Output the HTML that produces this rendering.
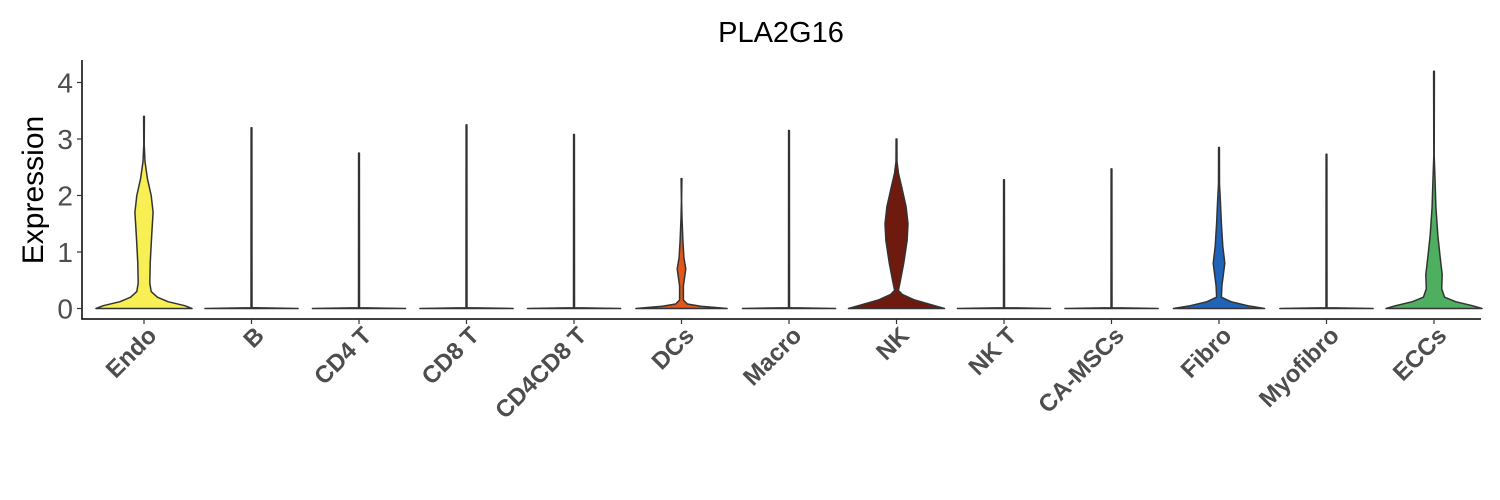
<!DOCTYPE html>
<html><head><meta charset="utf-8"><style>
body{margin:0;background:#fff}
svg{display:block;font-family:"Liberation Sans",sans-serif}
</style></head><body>
<svg id="chart" width="1500" height="500" viewBox="0 0 1500 500">
<text x="781" y="42" font-size="29" text-anchor="middle" fill="#000">PLA2G16</text>
<text transform="translate(43,190) rotate(-90)" font-size="30" text-anchor="middle" fill="#000">Expression</text>
<g id="plot"></g>
</svg>
<script>
const categories=["Endo","B","CD4 T","CD8 T","CD4CD8 T","DCs","Macro","NK","NK T","CA-MSCs","Fibro","Myofibro","ECCs"];
const maxValues=[3.4,3.2,2.75,3.25,3.08,2.3,3.15,3.0,2.28,2.47,2.85,2.73,4.2];
const colors=["#f7ef53","#f7ef53","#f7ef53","#f7ef53","#f7ef53","#e0561b","#f7ef53","#6e1a0f","#f7ef53","#f7ef53","#1f64b8","#f7ef53","#4daf5f"];
// density profiles: [value, relative half-width]
const profiles=[
 [[0,1],[0.05,0.85],[0.12,0.5],[0.2,0.28],[0.3,0.15],[0.45,0.12],[0.8,0.13],[1.3,0.16],[1.7,0.19],[2.0,0.15],[2.3,0.07],[2.6,0.02],[2.9,0.005]],
 null,null,null,null,
 [[0,0.95],[0.04,0.4],[0.08,0.12],[0.15,0.04],[0.4,0.04],[0.7,0.09],[0.9,0.05],[1.2,0.03],[1.6,0.01],[1.9,0.003]],
 null,
 [[0,1],[0.06,0.75],[0.15,0.38],[0.25,0.12],[0.32,0.04],[0.45,0.07],[0.8,0.15],[1.2,0.22],[1.5,0.24],[1.8,0.2],[2.1,0.12],[2.4,0.04],[2.6,0.01]],
 null,null,
 [[0,0.95],[0.05,0.6],[0.12,0.25],[0.2,0.05],[0.4,0.06],[0.8,0.12],[1.1,0.08],[1.5,0.05],[1.9,0.03],[2.2,0.01]],
 null,
 [[0,1],[0.05,0.8],[0.12,0.45],[0.2,0.22],[0.35,0.16],[0.6,0.17],[0.9,0.13],[1.3,0.08],[1.8,0.04],[2.3,0.02],[2.7,0.005]]
];
const yTicks=[0,1,2,3,4];
const X0=82,X1=1481,Y0=308.5,PX=56.5,HALF=48;
const xPos=i=>144+i*107.5;
const yPos=v=>Y0-v*PX;
const ns="http://www.w3.org/2000/svg";
const g=document.getElementById('plot');
function mk(t,a){const e=document.createElementNS(ns,t);for(const k in a)e.setAttribute(k,a[k]);g.appendChild(e);return e;}
let ax=mk('line',{x1:X0,y1:yPos(-0.19),x2:X0,y2:60,stroke:'#000','stroke-width':1.5});

let bx=mk('line',{x1:X0-0.75,y1:319,x2:X1,y2:319,stroke:'#000','stroke-width':1.5});

yTicks.forEach(v=>{
 const t=mk('line',{x1:X0-5,x2:X0,y1:yPos(v),y2:yPos(v),stroke:'#333','stroke-width':1.2});
 
 const l=mk('text',{x:X0-9,y:yPos(v)+10,'font-size':28,'text-anchor':'end',fill:'#4d4d4d'});
 l.textContent=v;
 
});
categories.forEach((c,i)=>{
 const cx=xPos(i);
 const t=mk('line',{x1:cx,x2:cx,y1:319,y2:324,stroke:'#333','stroke-width':1.2});
 
 const l=mk('text',{transform:`translate(${cx+14},${337}) rotate(-45)`,'font-size':24,'font-weight':'bold','text-anchor':'end',fill:'#4d4d4d'});
 l.textContent=c;
 
 let prof=profiles[i]||[[0,0.97],[0.015,0.01]];
 const top=maxValues[i];
 let right=prof.map(p=>[cx+p[1]*HALF,yPos(p[0])]);
 let left=prof.map(p=>[cx-p[1]*HALF,yPos(p[0])]).reverse();
 let pts=[...right,[cx+0.4,yPos(top)],[cx-0.4,yPos(top)],...left];
 let d='M'+pts.map(p=>p[0].toFixed(1)+','+p[1].toFixed(1)).join('L')+'Z';
 const v=mk('path',{d:d,fill:colors[i],stroke:'#333','stroke-width':1.5,'stroke-linejoin':'round'});
 
 
});
</script>
</body></html>
